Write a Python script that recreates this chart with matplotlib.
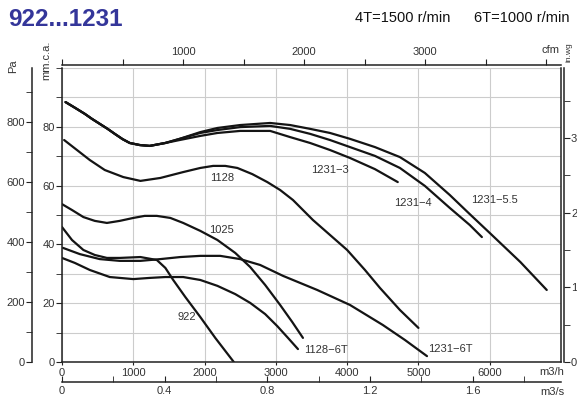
import matplotlib
matplotlib.use('Agg')
import matplotlib.pyplot as plt
from matplotlib.ticker import MultipleLocator

plt.rcParams['font.family'] = ['Liberation Sans', 'DejaVu Sans']

# curves: flow in m3/h, pressure in mm w.c.
q_1231_55 = [50, 180, 320, 420, 530, 640, 740, 850, 950, 1090, 1230, 1450, 1650, 1940, 2180, 2500,
             2920, 3200, 3480, 3760, 4040, 4390, 4740, 5090, 5440, 5720, 6000, 6430, 6800]
p_1231_55 = [88.4, 86.5, 84.4, 82.7, 81.0, 79.3, 77.6, 75.8, 74.5, 73.8, 73.5, 74.5, 75.9, 78.2,
             79.6, 80.6, 81.3, 80.6, 79.3, 77.9, 75.9, 73.1, 69.7, 64.3, 56.8, 50.3, 43.9, 34.0, 24.5]

q_1231_4 = [50, 180, 320, 420, 530, 640, 740, 850, 950, 1090, 1230, 1450, 1650, 1940, 2180, 2500,
            2920, 3200, 3480, 3760, 4040, 4390, 4740, 5090, 5440, 5720, 5890]
p_1231_4 = [88.4, 86.5, 84.4, 82.7, 81.0, 79.3, 77.6, 75.8, 74.5, 73.8, 73.5, 74.5, 75.9, 77.9,
            78.9, 79.9, 80.3, 79.3, 77.6, 75.5, 73.1, 70.1, 66.0, 59.9, 52.4, 46.6, 42.5]

q_1231_3 = [50, 180, 320, 420, 530, 640, 740, 850, 950, 1090, 1230, 1450, 1650, 1940, 2180, 2500,
            2920, 3200, 3480, 3760, 4040, 4390, 4710]
p_1231_3 = [88.4, 86.5, 84.4, 82.7, 81.0, 79.3, 77.6, 75.8, 74.5, 73.8, 73.5, 74.5, 75.5, 76.9,
            77.9, 78.6, 78.6, 76.5, 74.5, 72.1, 69.4, 65.6, 61.2]

q_1128 = [30, 210, 390, 600, 860, 1100, 1380, 1700, 1940, 2120, 2290, 2460, 2670, 2880, 3060,
          3240, 3520, 3760, 4000, 4250, 4460, 4740, 5000]
p_1128 = [75.5, 72.1, 68.7, 65.3, 62.9, 61.6, 62.6, 64.6, 66.0, 66.7, 66.7, 66.0, 63.9, 61.2, 58.5,
          55.1, 48.3, 43.2, 38.1, 31.3, 25.2, 17.7, 11.6]

q_1025 = [0, 140, 300, 460, 630, 810, 1000, 1160, 1330, 1520, 1700, 1940, 2180, 2430, 2640,
          2850, 3060, 3230, 3380]
p_1025 = [53.7, 51.7, 49.3, 48.0, 47.3, 48.0, 49.0, 49.7, 49.7, 49.0, 47.3, 44.6, 41.5, 37.1, 32.3,
          26.2, 19.4, 13.6, 8.2]

q_922 = [0, 140, 300, 460, 630, 810, 1100, 1330, 1450, 1560, 1730, 1940, 2150, 2410]
p_922 = [45.9, 41.5, 38.1, 36.4, 35.4, 35.4, 35.7, 34.7, 32.0, 27.9, 22.1, 15.3, 8.2, 0.0]

q_1231_6t = [15, 250, 530, 810, 1100, 1380, 1660, 1940, 2220, 2500, 2780, 3100, 3580, 4040,
             4500, 4810, 5120]
p_1231_6t = [38.8, 36.7, 35.0, 34.4, 34.4, 35.0, 35.7, 36.1, 36.1, 35.0, 33.0, 29.3, 24.5, 19.4,
             12.6, 7.5, 2.0]

q_1128_6t = [0, 180, 390, 670, 1000, 1230, 1450, 1700, 1940, 2180, 2430, 2640, 2850, 3020,
             3170, 3310]
p_1128_6t = [35.4, 33.7, 31.3, 28.9, 28.2, 28.6, 28.9, 28.9, 27.9, 25.9, 23.1, 20.1, 16.3, 12.2,
             8.2, 4.4]

curves = [(q_1231_55, p_1231_55), (q_1231_4, p_1231_4), (q_1231_3, p_1231_3),
          (q_1128, p_1128), (q_1025, p_1025), (q_922, p_922),
          (q_1231_6t, p_1231_6t), (q_1128_6t, p_1128_6t)]

labels = ['1231\u22123', '1231\u22124', '1231\u22125.5', '1128', '1025', '922',
          '1128\u22126T', '1231\u22126T']
label_q = [3760, 4920, 6060, 2240, 2240, 1750, 3700, 5450]
label_p = [65.3, 54.1, 55.1, 62.6, 44.9, 15.3, 4.1, 4.4]

W, H = 577, 400
ink = '#222222'
txt = '#333333'
grid_c = '#cccccc'


def ft(x, y, s, **kw):
    fig.text(x / W, 1 - y / H, s, **kw)


fig = plt.figure(figsize=(W / 100, H / 100), dpi=100)
ax = fig.add_axes([62 / W, 1 - 362 / H, (561 - 62) / W, (362 - 68) / H])
ax.set_xlim(0, 7000)
ax.set_ylim(0, 100)

ax.set_xticks(range(0, 7000, 1000))
ax.set_yticks(range(0, 100, 20))
ax.yaxis.set_minor_locator(MultipleLocator(10))
ax.xaxis.grid(True, which='major', color=grid_c, lw=0.8)
ax.yaxis.grid(True, which='both', color=grid_c, lw=0.8)
ax.set_axisbelow(True)
ax.tick_params(axis='x', length=2, pad=2, labelsize=8, labelcolor=txt, color=ink)
ax.tick_params(axis='y', which='both', length=4, pad=1, labelsize=8, labelcolor=txt, color=ink)
ax.spines['top'].set_visible(False)
for s in ['left', 'bottom', 'right']:
    ax.spines[s].set_color(ink)
    ax.spines[s].set_linewidth(1.1)

for (q, p) in curves:
    ax.plot(q, p, color='#141414', lw=1.6, solid_capstyle='round', solid_joinstyle='round')
for lab, x, y in zip(labels, label_q, label_p):
    ax.text(x, y, lab, fontsize=8, color=txt, ha='center', va='center')

# Pa axis (left, outer)
axp = ax.twinx()
axp.set_ylim(0, 100 * 9.80665)
axp.yaxis.set_ticks_position('left')
axp.spines['left'].set_position(('outward', 21.6))
for s in ['top', 'right', 'bottom']:
    axp.spines[s].set_visible(False)
axp.spines['left'].set_color(ink)
axp.spines['left'].set_linewidth(1.1)
axp.set_yticks(range(0, 1000, 200))
axp.yaxis.set_minor_locator(MultipleLocator(100))
axp.tick_params(axis='y', which='both', length=4, pad=1, labelsize=8, labelcolor=txt, color=ink)

# in.wg axis (right)
axi = ax.twinx()
axi.set_ylim(0, 100 / 25.4)
axi.spines['right'].set_position(('outward', 2.2))
for s in ['top', 'left', 'bottom']:
    axi.spines[s].set_visible(False)
axi.spines['right'].set_color(ink)
axi.spines['right'].set_linewidth(1.1)
axi.set_yticks([0, 1, 2, 3])
axi.yaxis.set_minor_locator(MultipleLocator(0.5))
axi.tick_params(axis='y', which='both', length=4, pad=1, labelsize=8, labelcolor=txt, color=ink)

# cfm axis (top)
axc = ax.twiny()
axc.set_xlim(0, 7000 / 1.699)
axc.spines['top'].set_position(('outward', 2.2))
for s in ['left', 'right', 'bottom']:
    axc.spines[s].set_visible(False)
axc.spines['top'].set_color(ink)
axc.spines['top'].set_linewidth(1.1)
axc.set_xticks(range(0, 4500, 500))
axc.set_xticklabels(['', '', '1000', '', '2000', '', '3000', '', ''])
axc.tick_params(axis='x', length=4, pad=2, labelsize=8, labelcolor=txt, color=ink)

# m3/s axis (bottom, outer)
axs = ax.twiny()
axs.set_xlim(0, 7000 / 3600)
axs.xaxis.set_ticks_position('bottom')
axs.spines['bottom'].set_position(('outward', 14.4))
for s in ['left', 'right', 'top']:
    axs.spines[s].set_visible(False)
axs.spines['bottom'].set_color(ink)
axs.spines['bottom'].set_linewidth(1.1)
axs.set_xticks([0, 0.4, 0.8, 1.2, 1.6])
axs.set_xticklabels(['0', '0.4', '0.8', '1.2', '1.6'])
axs.xaxis.set_minor_locator(MultipleLocator(0.2))
axs.tick_params(axis='x', which='both', direction='in', length=4, pad=3,
                labelsize=8, labelcolor=txt, color=ink)

# text around the chart
ft(8, 19, '922...1231', fontsize=17.5, fontweight='bold', color='#34369a', va='center')
ft(355, 18, '4T=1500 r/min', fontsize=10.5, color='#111111', va='center')
ft(474, 18, '6T=1000 r/min', fontsize=10.5, color='#111111', va='center')
ft(550, 50, 'cfm', fontsize=8, color=txt, ha='center', va='center')
ft(552, 372, 'm3/h', fontsize=8, color=txt, ha='center', va='center')
ft(552, 392, 'm3/s', fontsize=8, color=txt, ha='center', va='center')
ft(13, 66, 'Pa', fontsize=8, color=txt, rotation=90, ha='center', va='center')
ft(46, 60, 'mm.c.a.', fontsize=8, color=txt, rotation=90, ha='center', va='center')
ft(569, 52, 'in.wg', fontsize=6, color=txt, rotation=90, ha='center', va='center')

fig.savefig('out.png', dpi=100)
